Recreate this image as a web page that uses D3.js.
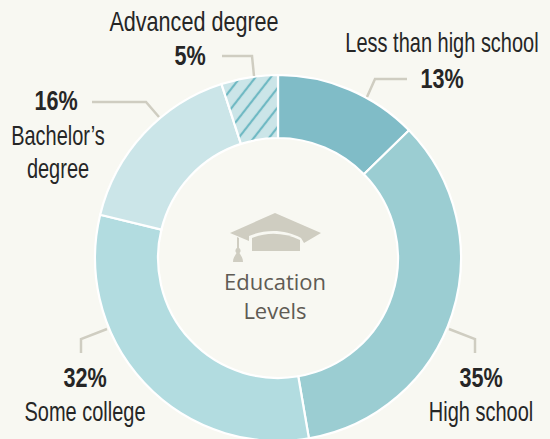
<!DOCTYPE html>
<html lang="en">
<head>
<meta charset="UTF-8">
<title>Education Levels</title>
<script src="https://d3js.org/d3.v7.min.js"></script>
<style>
    html, body { margin: 0; padding: 0; background: #f8f8f2; overflow: hidden; }
    svg { display: block; }
    .lab { font-family: "Liberation Sans", sans-serif; fill: #262626; text-anchor: middle; font-size: 27px; }
    .pct { font-weight: bold; font-size: 27px; }
    .center { font-family: "Open Sans", sans-serif; fill: #5f5b54; text-anchor: middle; font-size: 22px; }
    .leader { fill: none; stroke: #cfcdc1; stroke-width: 2.5px; }
</style>
</head>
<body>
<svg id="chart" width="550" height="439"></svg>
<script>
const categories = ["Less than high school", "High school", "Some college", "Bachelor\u2019s degree", "Advanced degree"];
// percentages as printed
const printed = [13, 35, 32, 16, 5];
// slice shares read from the ring itself, before the rounding in the labels
const shares = [12.7, 34.6, 31.5, 16.2, 5.0];
const colors = ["#80bcc7", "#9bcdd2", "#b2dce0", "#cbe5e8", "url(#hatch)"];

const cx = 278, cy = 258, outer = 183, inner = 120;

const svg = d3.select("#chart");

const pattern = svg.append("defs").append("pattern")
    .attr("id", "hatch")
    .attr("patternUnits", "userSpaceOnUse")
    .attr("width", 12)
    .attr("height", 12)
    .attr("patternTransform", "rotate(38)");
pattern.append("rect").attr("width", 12).attr("height", 12).attr("fill", "#cbe5e8");
pattern.append("line").attr("x1", 3).attr("x2", 3).attr("y1", 0).attr("y2", 12)
    .attr("stroke", "#6fb9c3").attr("stroke-width", 2.2);

const pie = d3.pie().sort(null);
const arc = d3.arc().innerRadius(inner).outerRadius(outer);

svg.append("g")
    .attr("transform", `translate(${cx},${cy})`)
    .selectAll("path")
    .data(pie(shares))
    .join("path")
    .attr("d", arc)
    .attr("fill", (d, i) => colors[i])
    .attr("stroke", "#fff")
    .attr("stroke-width", 2.2);

// leader lines and label positions, one per slice
const leaders = [
    [[367, 97], [375, 79], [407, 79]],
    [[449, 329], [475, 339], [475, 353]],
    [[107, 329], [81, 339], [81, 353]],
    [[159, 117], [146, 102], [92, 102]],
    [[254, 76], [252, 56], [222, 56]]
];
svg.append("g").selectAll("path")
    .data(leaders)
    .join("path")
    .attr("class", "leader")
    .attr("d", d3.line());

const labels = [
    { x: 442, y: 52, text: categories[0], sx: 0.74 },
    { x: 442, y: 88, text: printed[0] + "%", bold: true },
    { x: 481, y: 387, text: printed[1] + "%", bold: true },
    { x: 481, y: 421, text: categories[1], sx: 0.74 },
    { x: 85, y: 387, text: printed[2] + "%", bold: true },
    { x: 85, y: 421, text: categories[2], sx: 0.74 },
    { x: 56, y: 110, text: printed[3] + "%", bold: true },
    { x: 58, y: 145, text: "Bachelor\u2019s", sx: 0.74 },
    { x: 58, y: 178, text: "degree", sx: 0.74 },
    { x: 194, y: 31, text: categories[4], sx: 0.8 },
    { x: 190, y: 65, text: printed[4] + "%", bold: true }
];
// no condensed face is installed, so squeeze the text sideways
svg.append("g").selectAll("text")
    .data(labels)
    .join("text")
    .attr("class", d => d.bold ? "lab pct" : "lab")
    .attr("transform", d => `translate(${d.x},${d.y}) scale(${d.sx || 0.8},1)`)
    .text(d => d.text);

// mortarboard icon
const hat = svg.append("g").attr("fill", "#cfcdc1");
hat.append("path").attr("d", "M275 213 L321 233 L304 243 L301 238 C285 229 265 229 249 236 L249 241 L230 233 Z");
hat.append("path").attr("d", "M252 238 C266 232 284 232 300 240 L300 251 L252 251 Z");
hat.append("path").attr("d", "M237 237 L239 238 L239 248 C241 249 241 252 239.5 253 C241 256 243 258 243 262 L233 262 C233 258 235 256 236.5 253 C235 252 235 249 237 248 Z");

svg.append("text").attr("class", "center").attr("x", 275).attr("y", 290).text("Education");
svg.append("text").attr("class", "center").attr("x", 275).attr("y", 319).text("Levels");
</script>
</body>
</html>
